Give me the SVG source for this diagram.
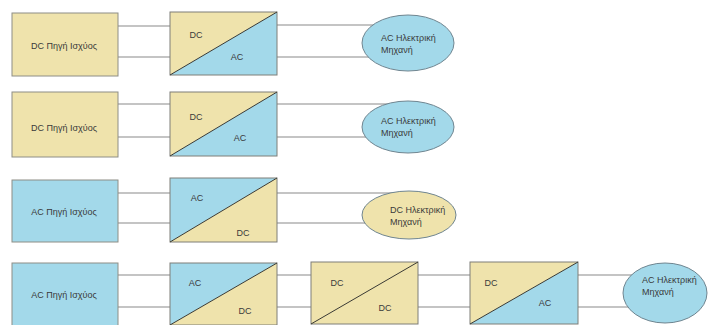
<svg xmlns="http://www.w3.org/2000/svg" width="709" height="325" viewBox="0 0 709 325">
  <style>
    .dc { fill: #EFE3AC; }
    .ac { fill: #A3D9EA; }
    .box { stroke: #8E8E86; stroke-width: 1; }
    .frame { fill: none; stroke: #7E7E78; stroke-width: 1; }
    .diag { stroke: #3A3A34; stroke-width: 1; }
    .ell { stroke: #6F8590; stroke-width: 1; }
    .wire { stroke: #8A8A8A; stroke-width: 1.2; fill: none; }
    text { font-family: "Liberation Sans", Arial, sans-serif; font-size: 9px; fill: #3A3A3A; }
    .mid { text-anchor: middle; }
  </style>

  <!-- connectors -->
  <g id="connectors">
    <!-- row 1 -->
    <path class="wire" d="M118 26H171M118 57H171M277 25H390M277 57H390"/>
    <!-- row 2 -->
    <path class="wire" d="M118 104H171M118 137H171M277 104H390M277 137H390"/>
    <!-- row 3 -->
    <path class="wire" d="M118 193H171M118 223H171M277 193H395M277 223H390"/>
    <!-- row 4 -->
    <path class="wire" d="M118 275H171M118 307H171M277 275H311M277 307H311M418 275H470M418 307H470M578 275H650M578 307H650"/>
  </g>

  <!-- row 1: DC source -> DC/AC -> AC machine -->
  <g id="src1">
    <rect class="dc box" x="12" y="13" width="106" height="63"/>
    <text class="mid" x="64" y="49">DC Πηγή Ισχύος</text>
  </g>
  <g id="conv1">
    <polygon class="dc" points="170,12 277,12 170,75"/>
    <polygon class="ac" points="277,12 277,75 170,75"/>
    <rect class="frame" x="170" y="12" width="107" height="63"/>
    <line class="diag" x1="170" y1="75" x2="277" y2="12"/>
    <text class="mid" x="196" y="38">DC</text>
    <text class="mid" x="237" y="60">AC</text>
  </g>
  <g id="motor1">
    <ellipse class="ac ell" cx="408" cy="43" rx="46" ry="28"/>
    <text x="381" y="41">AC Ηλεκτρική</text>
    <text x="381" y="53">Μηχανή</text>
  </g>

  <!-- row 2: DC source -> DC/AC -> AC machine -->
  <g id="src2">
    <rect class="dc box" x="12" y="92" width="106" height="65"/>
    <text class="mid" x="64" y="131">DC Πηγή Ισχύος</text>
  </g>
  <g id="conv2">
    <polygon class="dc" points="170,92 277,92 170,156"/>
    <polygon class="ac" points="277,92 277,156 170,156"/>
    <rect class="frame" x="170" y="92" width="107" height="64"/>
    <line class="diag" x1="170" y1="156" x2="277" y2="92"/>
    <text class="mid" x="196" y="120">DC</text>
    <text class="mid" x="240" y="141">AC</text>
  </g>
  <g id="motor2">
    <ellipse class="ac ell" cx="408" cy="127" rx="46" ry="26"/>
    <text x="381" y="124">AC Ηλεκτρική</text>
    <text x="381" y="136">Μηχανή</text>
  </g>

  <!-- row 3: AC source -> AC/DC -> DC machine -->
  <g id="src3">
    <rect class="ac box" x="12" y="180" width="106" height="62"/>
    <text class="mid" x="64" y="215">AC Πηγή Ισχύος</text>
  </g>
  <g id="conv3">
    <polygon class="ac" points="170,178 277,178 170,242"/>
    <polygon class="dc" points="277,178 277,242 170,242"/>
    <rect class="frame" x="170" y="178" width="107" height="64"/>
    <line class="diag" x1="170" y1="242" x2="277" y2="178"/>
    <text class="mid" x="197" y="201">AC</text>
    <text class="mid" x="243" y="236">DC</text>
  </g>
  <g id="motor3">
    <ellipse class="dc ell" cx="409" cy="215" rx="47" ry="24"/>
    <text x="390" y="213">DC Ηλεκτρική</text>
    <text x="390" y="225">Μηχανή</text>
  </g>

  <!-- row 4: AC source -> AC/DC -> DC/DC -> DC/AC -> AC machine -->
  <g id="src4">
    <rect class="ac box" x="12" y="263" width="106" height="64"/>
    <text class="mid" x="64" y="298">AC Πηγή Ισχύος</text>
  </g>
  <g id="conv4a">
    <polygon class="ac" points="170,263 277,263 170,325"/>
    <polygon class="dc" points="277,263 277,325 170,325"/>
    <rect class="frame" x="170" y="263" width="107" height="62"/>
    <line class="diag" x1="170" y1="325" x2="277" y2="263"/>
    <text class="mid" x="195" y="286">AC</text>
    <text class="mid" x="245" y="314">DC</text>
  </g>
  <g id="conv4b">
    <rect class="dc" x="311" y="262" width="107" height="62"/>
    <rect class="frame" x="311" y="262" width="107" height="62"/>
    <line class="diag" x1="311" y1="324" x2="418" y2="262"/>
    <text class="mid" x="337" y="286">DC</text>
    <text class="mid" x="385" y="311">DC</text>
  </g>
  <g id="conv4c">
    <polygon class="dc" points="470,262 578,262 470,324"/>
    <polygon class="ac" points="578,262 578,324 470,324"/>
    <rect class="frame" x="470" y="262" width="108" height="62"/>
    <line class="diag" x1="470" y1="324" x2="578" y2="262"/>
    <text class="mid" x="491" y="286">DC</text>
    <text class="mid" x="545" y="306">AC</text>
  </g>
  <g id="motor4">
    <ellipse class="ac ell" cx="665" cy="293" rx="42" ry="30"/>
    <text x="642" y="283">AC Ηλεκτρική</text>
    <text x="642" y="295">Μηχανή</text>
  </g>
</svg>
